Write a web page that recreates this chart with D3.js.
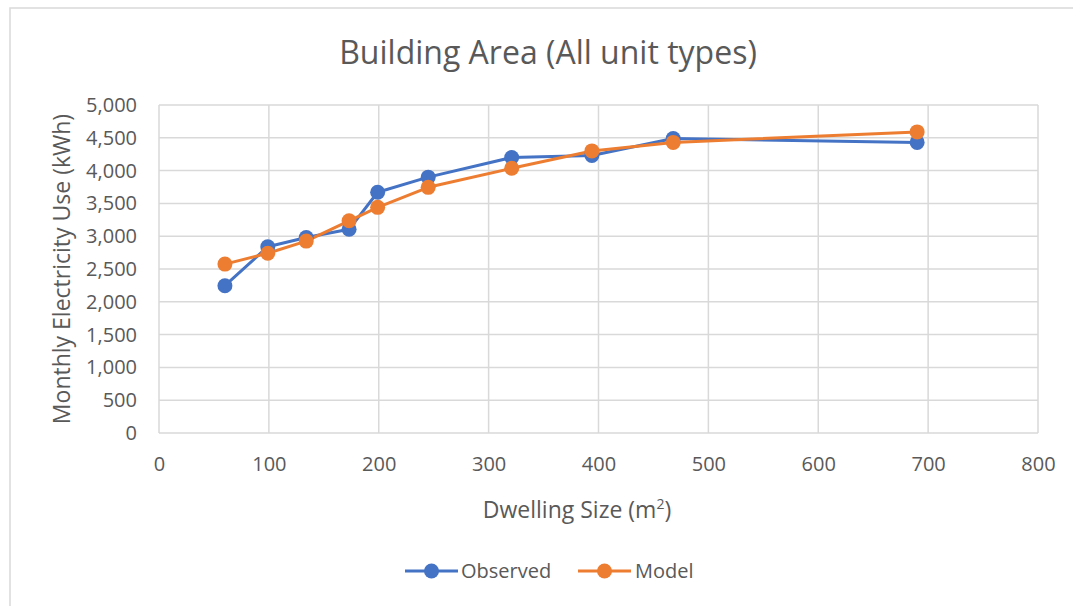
<!DOCTYPE html>
<html>
<head>
<meta charset="utf-8">
<script src="https://cdn.jsdelivr.net/npm/d3@7"></script>
<style>
  html, body { margin: 0; padding: 0; background: #fff; }
  svg { display: block; }
  text { font-family: "Open Sans", "Noto Sans", sans-serif; fill: #595959; }
</style>
</head>
<body>
<svg id="chart" width="1073" height="606"></svg>
<script>
// Dwelling size (m²) for each group
const sizes = [60, 99, 134, 173, 199, 245, 321, 394, 468, 690];
// Monthly electricity use (kWh)
const observed = [2245, 2840, 2980, 3105, 3670, 3900, 4200, 4230, 4490, 4430];
const model    = [2575, 2740, 2925, 3235, 3440, 3745, 4035, 4300, 4430, 4590];

const xTicks = [0, 100, 200, 300, 400, 500, 600, 700, 800];
const yTicks = [0, 500, 1000, 1500, 2000, 2500, 3000, 3500, 4000, 4500, 5000];

const seriesNames = ["Observed", "Model"];
const seriesColors = ["#4472C4", "#ED7D31"];

const svg = d3.select("#chart");

// outer chart frame
svg.append("rect")
  .attr("x", 10).attr("y", 8)
  .attr("width", 1080).attr("height", 620)
  .attr("fill", "#fff")
  .attr("stroke", "#d9d9d9")
  .attr("stroke-width", 1.5);

const plot = { left: 159, right: 1038, top: 105, bottom: 433 };

const x = d3.scaleLinear().domain([0, 800]).range([plot.left, plot.right]);
const y = d3.scaleLinear().domain([0, 5000]).range([plot.bottom, plot.top]);

// gridlines
const g = svg.append("g");
g.selectAll("line.hgrid").data(yTicks).join("line")
  .attr("class", "hgrid")
  .attr("x1", plot.left).attr("x2", plot.right)
  .attr("y1", d => y(d)).attr("y2", d => y(d))
  .attr("stroke", "#d9d9d9").attr("stroke-width", 1.5);
g.selectAll("line.vgrid").data(xTicks).join("line")
  .attr("class", "vgrid")
  .attr("y1", plot.top).attr("y2", plot.bottom)
  .attr("x1", d => x(d)).attr("x2", d => x(d))
  .attr("stroke", "#d9d9d9").attr("stroke-width", 1.5);

// axes (labels only; lines are the gridlines)
const xAxis = d3.axisBottom(x).tickValues(xTicks).tickSize(0).tickPadding(24)
  .tickFormat(d3.format("d"));
svg.append("g")
  .attr("transform", `translate(0,${plot.bottom})`)
  .call(xAxis)
  .call(a => a.select(".domain").remove())
  .selectAll("text")
  .attr("font-size", 20)
  .attr("font-family", "'Open Sans', sans-serif")
  .attr("fill", "#595959");

const yAxis = d3.axisLeft(y).tickValues(yTicks).tickSize(0).tickPadding(22)
  .tickFormat(d3.format(","));
svg.append("g")
  .attr("transform", `translate(${plot.left},0)`)
  .call(yAxis)
  .call(a => a.select(".domain").remove())
  .selectAll("text")
  .attr("font-size", 20)
  .attr("font-family", "'Open Sans', sans-serif")
  .attr("fill", "#595959");

// series lines and markers
const data = [observed, model];
const line = d3.line().x((d, i) => x(sizes[i])).y(d => y(d));

data.forEach((vals, si) => {
  svg.append("path")
    .datum(vals)
    .attr("d", line)
    .attr("fill", "none")
    .attr("stroke", seriesColors[si])
    .attr("stroke-width", 3)
    .attr("stroke-linejoin", "round");
});
data.forEach((vals, si) => {
  svg.append("g").selectAll("circle").data(vals).join("circle")
    .attr("cx", (d, i) => x(sizes[i]))
    .attr("cy", d => y(d))
    .attr("r", 7.5)
    .attr("fill", seriesColors[si]);
});

// title
svg.append("text")
  .attr("x", 548).attr("y", 64)
  .attr("text-anchor", "middle")
  .attr("font-size", 32)
  .text("Building Area (All unit types)");

// axis titles
const xt = svg.append("text")
  .attr("x", 577).attr("y", 518)
  .attr("text-anchor", "middle")
  .attr("font-size", 23);
xt.append("tspan").text("Dwelling Size (m");
xt.append("tspan").attr("font-size", 14).attr("dy", -9).text("2");
xt.append("tspan").attr("dy", 9).text(")");

svg.append("text")
  .attr("transform", `translate(70,${(plot.top + plot.bottom) / 2}) rotate(-90)`)
  .attr("text-anchor", "middle")
  .attr("font-size", 23)
  .text("Monthly Electricity Use (kWh)");

// legend
const legendItems = [
  { name: seriesNames[0], color: seriesColors[0], x0: 405, tx: 461 },
  { name: seriesNames[1], color: seriesColors[1], x0: 578, tx: 635 }
];
const lg = svg.append("g");
legendItems.forEach(it => {
  lg.append("line")
    .attr("x1", it.x0).attr("x2", it.x0 + 53)
    .attr("y1", 571).attr("y2", 571)
    .attr("stroke", it.color).attr("stroke-width", 3);
  lg.append("circle")
    .attr("cx", it.x0 + 26.5).attr("cy", 571).attr("r", 7.5)
    .attr("fill", it.color);
  lg.append("text")
    .attr("x", it.tx).attr("y", 578)
    .attr("font-size", 20)
    .text(it.name);
});
</script>
</body>
</html>
